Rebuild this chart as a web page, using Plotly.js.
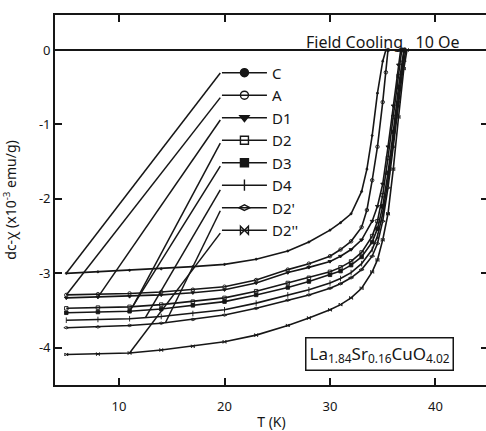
<!DOCTYPE html>
<html><head><meta charset="utf-8">
<script src="https://cdn.plot.ly/plotly-3.0.1.min.js"></script>
<style>html,body{margin:0;padding:0;overflow:hidden;background:#fff}#chart{width:490px;height:431px}</style>
</head><body><div id="chart"></div>
<script>
// ---- data ----
const seriesNames = ['C', 'A', 'D1', 'D2', 'D3', 'D4', "D2'", "D2''"];

const T_C  = [5, 8, 11, 14, 17, 20, 23, 26, 28, 30, 31, 32, 33, 33.5, 34, 34.5, 35, 35.3];
const Y_C  = [-3.00, -2.98, -2.96, -2.94, -2.91, -2.88, -2.81, -2.70, -2.58, -2.42, -2.32, -2.20, -1.90, -1.60, -1.15, -0.58, -0.15, 0];

const T_A  = [5, 8, 11, 14, 17, 20, 23, 26, 28, 30, 31, 32, 33, 33.5, 34, 34.5, 35, 35.3, 35.5];
const Y_A  = [-3.29, -3.28, -3.27, -3.25, -3.22, -3.18, -3.09, -2.95, -2.87, -2.77, -2.68, -2.57, -2.38, -2.15, -1.75, -1.30, -0.70, -0.30, 0];

const T_D1 = [5, 8, 11, 14, 17, 20, 23, 26, 28, 30, 31, 32, 33, 34, 34.5, 35, 35.5, 36, 36.5, 36.7];
const Y_D1 = [-3.33, -3.32, -3.31, -3.29, -3.26, -3.22, -3.13, -2.99, -2.92, -2.84, -2.77, -2.68, -2.55, -2.30, -2.10, -1.80, -1.30, -0.75, -0.20, 0];

const T_D2 = [5, 8, 11, 14, 17, 20, 23, 26, 28, 30, 31, 32, 33, 34, 34.5, 35, 35.5, 36, 36.5, 36.8];
const Y_D2 = [-3.47, -3.46, -3.45, -3.42, -3.38, -3.33, -3.24, -3.13, -3.06, -2.98, -2.92, -2.84, -2.72, -2.50, -2.30, -1.95, -1.45, -0.90, -0.35, 0];

const T_D3 = [5, 8, 11, 14, 17, 20, 23, 26, 28, 30, 31, 32, 33, 34, 34.5, 35, 35.5, 36, 36.5, 37];
const Y_D3 = [-3.53, -3.52, -3.51, -3.48, -3.43, -3.38, -3.29, -3.19, -3.11, -3.02, -2.97, -2.89, -2.78, -2.58, -2.40, -2.10, -1.65, -1.10, -0.50, 0];

const T_D4 = [5, 8, 11, 14, 17, 20, 23, 26, 28, 30, 31, 32, 33, 34, 34.5, 35, 35.5, 36, 36.5, 37, 37.1];
const Y_D4 = [-3.63, -3.62, -3.61, -3.58, -3.54, -3.49, -3.40, -3.29, -3.22, -3.13, -3.07, -2.99, -2.87, -2.68, -2.50, -2.20, -1.75, -1.20, -0.60, -0.05, 0];

const T_D2p = [5, 8, 11, 14, 17, 20, 23, 26, 28, 30, 31, 32, 33, 34, 34.5, 35, 35.5, 36, 36.5, 37, 37.2];
const Y_D2p = [-3.73, -3.72, -3.70, -3.67, -3.62, -3.56, -3.47, -3.36, -3.29, -3.20, -3.14, -3.06, -2.95, -2.77, -2.60, -2.30, -1.85, -1.30, -0.70, -0.15, 0];

const T_D2pp = [5, 8, 11, 14, 17, 20, 23, 26, 28, 30, 31, 32, 33, 34, 34.5, 35, 35.5, 36, 36.5, 37, 37.3];
const Y_D2pp = [-4.09, -4.085, -4.07, -4.03, -3.98, -3.92, -3.83, -3.70, -3.60, -3.49, -3.42, -3.33, -3.20, -2.98, -2.82, -2.55, -2.20, -1.60, -0.90, -0.25, 0];

const seriesT = [T_C, T_A, T_D1, T_D2, T_D3, T_D4, T_D2p, T_D2pp];
const seriesY = [Y_C, Y_A, Y_D1, Y_D2, Y_D3, Y_D4, Y_D2p, Y_D2pp];

// where each leader line touches its curve (T, K)
const leaderT = [5, 5, 8, 11.3, 11, 12.5, 14.4, 11];

const xTickVals = [10, 20, 30, 40];
const xTickText = ['10', '20', '30', '40'];
const yTickVals = [0, -1, -2, -3, -4];
const yTickText = ['0', '-1', '-2', '-3', '-4'];

// ---- styles ----
const INK = '#161616';
const FONT = 'Noto Sans, DejaVu Sans, sans-serif';
const symbols = ['circle', 'circle-open', 'triangle-down', 'square-open', 'square', 'line-ns-open', 'diamond-wide-open', 'bowtie-open'];
const curveMarkerSize = [2, 3.5, 3.5, 3.5, 3.5, 4, 3.5, 3];

// legend anchor (left end of each legend symbol), data coordinates
const legendAnchorT = 19.6;
const legendAnchorY = [-0.31, -0.64, -0.94, -1.25, -1.56, -1.88, -2.16, -2.46];

function interp(xs, ys, x) {
  for (let i = 0; i < xs.length - 1; i++) {
    if (x >= xs[i] && x <= xs[i + 1]) {
      const f = (x - xs[i]) / (xs[i + 1] - xs[i]);
      return ys[i] + f * (ys[i + 1] - ys[i]);
    }
  }
  return ys[0];
}

const traces = [];
// leader lines from each curve to its legend entry
const leadX = [], leadY = [];
seriesNames.forEach((n, i) => {
  leadX.push(leaderT[i], legendAnchorT, null);
  leadY.push(interp(seriesT[i], seriesY[i], leaderT[i]), legendAnchorY[i], null);
});
traces.push({
  x: leadX, y: leadY, type: 'scatter', mode: 'lines', showlegend: false,
  line: {color: INK, width: 1.5}, hoverinfo: 'skip', connectgaps: false
});
seriesNames.forEach((n, i) => {
  traces.push({
    x: seriesT[i], y: seriesY[i], type: 'scatter', mode: 'lines+markers',
    name: n, showlegend: false,
    line: {color: INK, width: 1.6},
    marker: {symbol: symbols[i], size: curveMarkerSize[i], color: INK, line: {color: INK, width: 0.9}},
    hoverinfo: 'skip'
  });
});
// legend-only entries with larger symbols
seriesNames.forEach((n, i) => {
  traces.push({
    x: [null], y: [null], type: 'scatter', mode: 'lines+markers',
    name: n, showlegend: true,
    line: {color: INK, width: 1.6},
    marker: {symbol: symbols[i], size: 8, color: INK, line: {color: INK, width: 1.4}}
  });
});

const layout = {
  width: 490, height: 431,
  margin: {l: 55, r: 2, t: 15, b: 46},
  paper_bgcolor: '#fff', plot_bgcolor: '#fff',
  font: {family: FONT, color: INK, size: 13},
  showlegend: true,
  legend: {
    x: 0.374, y: 0.888, xanchor: 'left', yanchor: 'top',
    bgcolor: 'rgba(0,0,0,0)', borderwidth: 0, itemwidth: 45,
    font: {family: FONT, size: 15, color: INK},
    traceorder: 'normal'
  },
  xaxis: {
    range: [3.93, 44.98], tickvals: xTickVals, ticktext: xTickText,
    ticks: 'inside', ticklen: 7, tickwidth: 1.5, tickcolor: INK,
    showline: true, linecolor: INK, linewidth: 1.8, mirror: 'ticks',
    showgrid: false, zeroline: false, ticklabelstandoff: 8,
    tickfont: {family: FONT, size: 13, color: INK},
    title: {text: 'T (K)', font: {family: FONT, size: 14, color: INK}, standoff: 8}
  },
  yaxis: {
    range: [-4.5, 0.47], tickvals: yTickVals, ticktext: yTickText,
    ticks: 'inside', ticklen: 7, tickwidth: 1.5, tickcolor: INK,
    showline: true, linecolor: INK, linewidth: 1.8, mirror: 'ticks',
    showgrid: false, zeroline: true, zerolinecolor: INK, zerolinewidth: 1.6,
    tickfont: {family: FONT, size: 13, color: INK},
    title: {text: 'dc-χ (x10<sup>-3</sup> emu/g)', font: {family: FONT, size: 14, color: INK}}
  },
  annotations: [
    {x: 34.98, y: 0.107, xref: 'x', yref: 'y', showarrow: false,
     text: 'Field Cooling\u00a0\u00a0 10 Oe', font: {family: FONT, size: 16, color: INK}},
    {x: 34.69, y: -4.087, xref: 'x', yref: 'y', showarrow: false,
     text: 'La<sub>1.84</sub>Sr<sub>0.16</sub>CuO<sub>4.02</sub>',
     font: {family: FONT, size: 17, color: INK},
     bordercolor: INK, borderwidth: 1.5, borderpad: 3, bgcolor: '#fff'}
  ]
};

Plotly.newPlot('chart', traces, layout, {displayModeBar: false});
</script>
</body></html>
